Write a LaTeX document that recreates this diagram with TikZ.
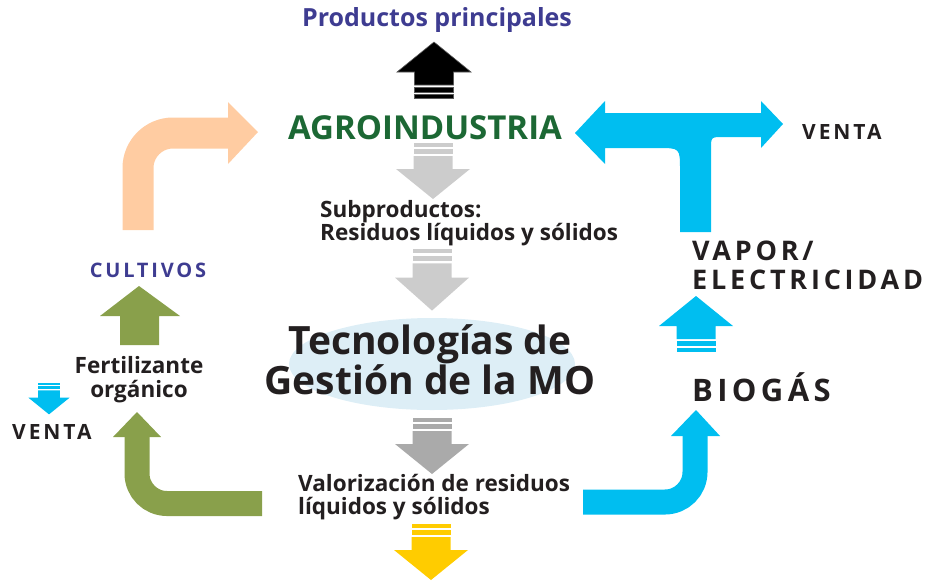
\documentclass[tikz,border=0pt]{standalone}
\usepackage{fontspec}
\setmainfont{Open Sans}
\newfontfamily\spaced[LetterSpace=14]{Open Sans}
\definecolor{ink}{RGB}{35,31,32}
\definecolor{titleblue}{RGB}{62,60,145}
\definecolor{agrogreen}{RGB}{28,104,52}
\definecolor{olive}{RGB}{137,160,75}
\definecolor{peach}{RGB}{255,204,162}
\definecolor{skyblue}{RGB}{0,190,240}
\definecolor{lightgray}{RGB}{204,204,204}
\definecolor{midgray}{RGB}{170,170,170}
\definecolor{sunyellow}{RGB}{255,204,0}
\definecolor{mist}{RGB}{221,238,246}

\tikzset{
  striped/.pic={
    \path[pic actions] (-19.5,0) rectangle (19.5,4);
    \path[pic actions] (-19.5,6) rectangle (19.5,11);
    \path[pic actions] (-19.5,13) -- (-19.5,26) -- (-37,26) -- (0,56) -- (37,26) -- (19.5,26) -- (19.5,13) -- cycle;
  },
  label text/.style={text=ink, font=\bfseries, inner sep=0pt}
}

\begin{document}
\begin{tikzpicture}[x=1pt, y=-1pt]
\useasboundingbox (0,0) rectangle (926,582);

\fill[mist] (432,364) ellipse [x radius=143, y radius=46];

\pic[fill=black, draw=black!65, line width=0.6] at (434,98) [rotate=180] {striped};
\pic[fill=lightgray] at (433,143) {striped};
\pic[fill=lightgray] at (432,249) [yscale=1.1] {striped};
\pic[fill=midgray] at (432,418) {striped};
\pic[fill=sunyellow] at (431,524) {striped};
\pic[fill=skyblue] at (696,352) [rotate=180] {striped};
\pic[fill=skyblue] at (49,383) [scale=0.56] {striped};

\draw[peach, line width=31, rounded corners=35] (138,230) -- (138,133) -- (230,133);
\fill[peach] (228,102) -- (258,132) -- (228,164) -- cycle;

\fill[olive] (120,345) -- (120,316) -- (100,316) -- (139,286) -- (180,316) -- (159,316) -- (159,345) -- cycle;
\draw[olive, line width=25, rounded corners=30] (262,503.5) -- (137,503.5) -- (137,436);
\fill[olive] (113,437) -- (137,412) -- (161,437) -- cycle;

\draw[skyblue, line width=25, rounded corners=30] (583,502) -- (695,502) -- (695,435);
\fill[skyblue] (671,436) -- (696,410) -- (720,436) -- cycle;

\fill[skyblue] (575,133) -- (605,101) -- (605,113) -- (761,113) -- (761,101) -- (783,124) -- (761,148) -- (761,137) -- (723,137) .. controls (711,137) .. (711,149) -- (711,232) -- (680,232) -- (680,170) .. controls (680,148) .. (658,148) -- (605,148) -- (605,164) -- cycle;

\node[label text, text=titleblue, font=\bfseries\fontsize{25}{28}\selectfont] (prod) at (437,20) {Productos principales};
\node[label text, text=agrogreen, font=\bfseries\fontsize{33}{40}\selectfont] (agro) at (425,128) {AGROINDUSTRIA};
\node[label text, font=\bfseries\fontsize{22.5}{22}\selectfont, align=left, anchor=west] (subprod) at (320,223) {Subproductos:\\Residuos líquidos y sólidos};
\node[label text, font=\bfseries\fontsize{39}{40}\selectfont, align=center] (tecno) at (430,360) {Tecnologías de\\Gestión de la MO};
\node[label text, font=\bfseries\fontsize{22.5}{23}\selectfont, align=left, anchor=west] (valor) at (298,497) {Valorización de residuos\\líquidos y sólidos};
\node[label text, text=titleblue, font=\spaced\bfseries\fontsize{20}{22}\selectfont] (cultivos) at (148,270) {CULTIVOS};
\node[label text, font=\bfseries\fontsize{22.5}{24}\selectfont, align=center] (fertil) at (139,380) {Fertilizante\\orgánico};
\node[label text, font=\spaced\bfseries\fontsize{21}{22}\selectfont, anchor=west] (ventaL) at (12,432) {VENTA};
\node[label text, font=\spaced\bfseries\fontsize{21}{22}\selectfont, anchor=west] (ventaR) at (802,132) {VENTA};
\node[label text, font=\spaced\bfseries\fontsize{27}{29}\selectfont, align=left, anchor=west] (vapor) at (692,265) {VAPOR/\\ELECTRICIDAD};
\node[label text, font=\spaced\bfseries\fontsize{31}{32}\selectfont, anchor=west] (biogas) at (692,387) {BIOGÁS};
\end{tikzpicture}
\end{document}
